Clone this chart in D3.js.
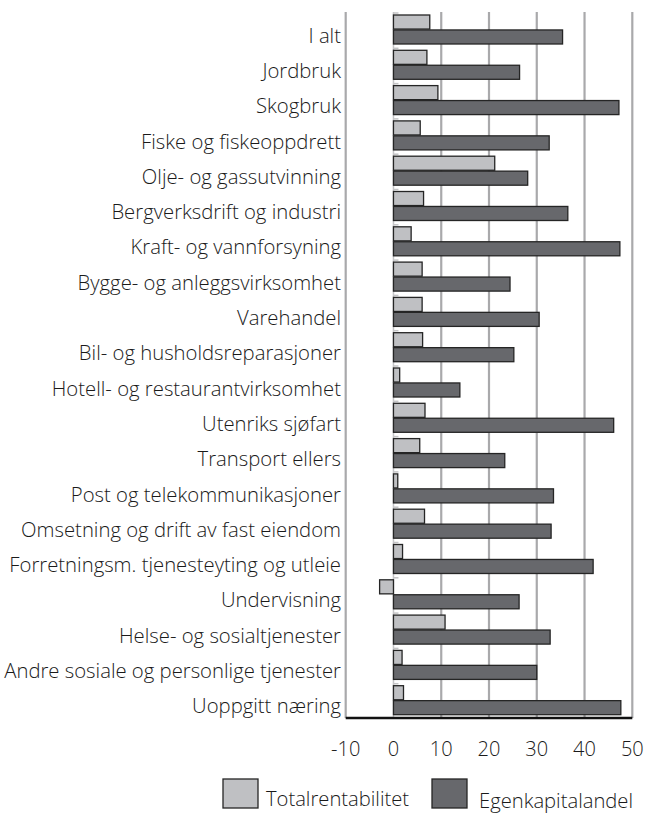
<!DOCTYPE html>
<html>
<head>
<meta charset="utf-8">
<script src="https://d3js.org/d3.v7.min.js"></script>
<style>
  body { margin: 0; background: #fff; }
  svg text { font-family: "Open Sans", "Noto Sans", sans-serif; font-weight: 300; fill: #1a1a1a; }
</style>
</head>
<body>
<div id="chart"></div>
<script>
(function(){
    const categories = [
        'I alt', 'Jordbruk', 'Skogbruk', 'Fiske og fiskeoppdrett', 'Olje- og gassutvinning',
        'Bergverksdrift og industri', 'Kraft- og vannforsyning', 'Bygge- og anleggsvirksomhet',
        'Varehandel', 'Bil- og husholdsreparasjoner', 'Hotell- og restaurantvirksomhet',
        'Utenriks sjøfart', 'Transport ellers', 'Post og telekommunikasjoner',
        'Omsetning og drift av fast eiendom', 'Forretningsm. tjenesteyting og utleie',
        'Undervisning', 'Helse- og sosialtjenester', 'Andre sosiale og personlige tjenester',
        'Uoppgitt næring'
    ];
    const seriesNames = ['Totalrentabilitet', 'Egenkapitalandel'];
    const totalrentabilitet = [7.6, 7.0, 9.3, 5.6, 21.2, 6.3, 3.7, 6.0, 6.0, 6.1,
                               1.3, 6.6, 5.5, 0.9, 6.5, 1.9, -2.9, 10.8, 1.8, 2.1];
    const egenkapitalandel = [35.4, 26.4, 47.2, 32.6, 28.1, 36.5, 47.4, 24.4, 30.5, 25.2,
                              13.9, 46.1, 23.3, 33.5, 33.0, 41.8, 26.3, 32.8, 30.0, 47.6];
    const xTicks = [-10, 0, 10, 20, 30, 40, 50];

    const width = 645, height = 813;
    const plot = { left: 345.7, right: 632.3, top: 12, bottom: 718 };

    const svg = d3.select('#chart')
        .append('svg')
        .attr('width', width)
        .attr('height', height);

    const x = d3.scaleLinear()
        .domain([-10, 50])
        .range([plot.left, plot.right]);

    const y = d3.scaleBand()
        .domain(categories)
        .range([plot.top, plot.bottom])
        .padding(0);

    const ySub = d3.scaleBand()
        .domain(seriesNames)
        .range([3, 32])
        .paddingInner(0.06);

    const colors = { 'Totalrentabilitet': '#bfc0c3', 'Egenkapitalandel': '#67686c' };

    // gridlines (no zero line, that one is lighter)
    svg.append('g')
        .selectAll('line')
        .data(xTicks.filter(d => d !== 0))
        .enter()
        .append('line')
        .attr('x1', d => x(d))
        .attr('x2', d => x(d))
        .attr('y1', plot.top)
        .attr('y2', plot.bottom)
        .attr('stroke', '#a9a9ab')
        .attr('stroke-width', 2.2);

    // zero axis with small ticks at band edges
    svg.append('line')
        .attr('x1', x(0)).attr('x2', x(0))
        .attr('y1', plot.top).attr('y2', plot.bottom)
        .attr('stroke', '#c4c4c6')
        .attr('stroke-width', 1.5);

    svg.append('g')
        .selectAll('line')
        .data(categories)
        .enter()
        .append('line')
        .attr('x1', x(0))
        .attr('x2', x(0) + 5)
        .attr('y1', d => y(d) + 1)
        .attr('y2', d => y(d) + 1)
        .attr('stroke', '#c4c4c6')
        .attr('stroke-width', 1.5);

    // bars
    const rows = categories.map((c, i) => ({
        cat: c,
        values: [
            { key: 'Totalrentabilitet', value: totalrentabilitet[i] },
            { key: 'Egenkapitalandel', value: egenkapitalandel[i] }
        ]
    }));

    const groups = svg.append('g')
        .selectAll('g')
        .data(rows)
        .enter()
        .append('g')
        .attr('transform', d => `translate(0,${y(d.cat)})`);

    groups.selectAll('rect')
        .data(d => d.values)
        .enter()
        .append('rect')
        .attr('x', d => x(Math.min(0, d.value)))
        .attr('y', d => ySub(d.key))
        .attr('width', d => Math.abs(x(d.value) - x(0)))
        .attr('height', ySub.bandwidth())
        .attr('fill', d => colors[d.key])
        .attr('stroke', '#252525')
        .attr('stroke-width', 1.3);

    // category labels
    svg.append('g')
        .selectAll('text')
        .data(categories)
        .enter()
        .append('text')
        .attr('x', 341)
        .attr('y', d => y(d) + y.bandwidth() / 2 + 13)
        .attr('text-anchor', 'end')
        .attr('font-size', '20.3px')
        .text(d => d);

    // bottom axis line
    svg.append('line')
        .attr('x1', plot.left).attr('x2', plot.right)
        .attr('y1', plot.bottom).attr('y2', plot.bottom)
        .attr('stroke', '#111')
        .attr('stroke-width', 2.4);

    // x tick labels
    svg.append('g')
        .selectAll('text')
        .data(xTicks)
        .enter()
        .append('text')
        .attr('x', d => x(d))
        .attr('y', 756)
        .attr('text-anchor', 'middle')
        .attr('font-size', '20px')
        .text(d => d);

    // legend
    const legendPos = [{ x: 223, tx: 266, ty: 806 }, { x: 432, tx: 479, ty: 808 }];
    const legend = svg.append('g')
        .selectAll('g')
        .data(seriesNames)
        .enter()
        .append('g');

    legend.append('rect')
        .attr('x', (d, i) => legendPos[i].x)
        .attr('y', 779)
        .attr('width', 35)
        .attr('height', 29)
        .attr('fill', d => colors[d])
        .attr('stroke', '#252525')
        .attr('stroke-width', 1.3);

    legend.append('text')
        .attr('x', (d, i) => legendPos[i].tx)
        .attr('y', (d, i) => legendPos[i].ty)
        .attr('font-size', '20.2px')
        .text(d => d);
})();
</script>
</body>
</html>
